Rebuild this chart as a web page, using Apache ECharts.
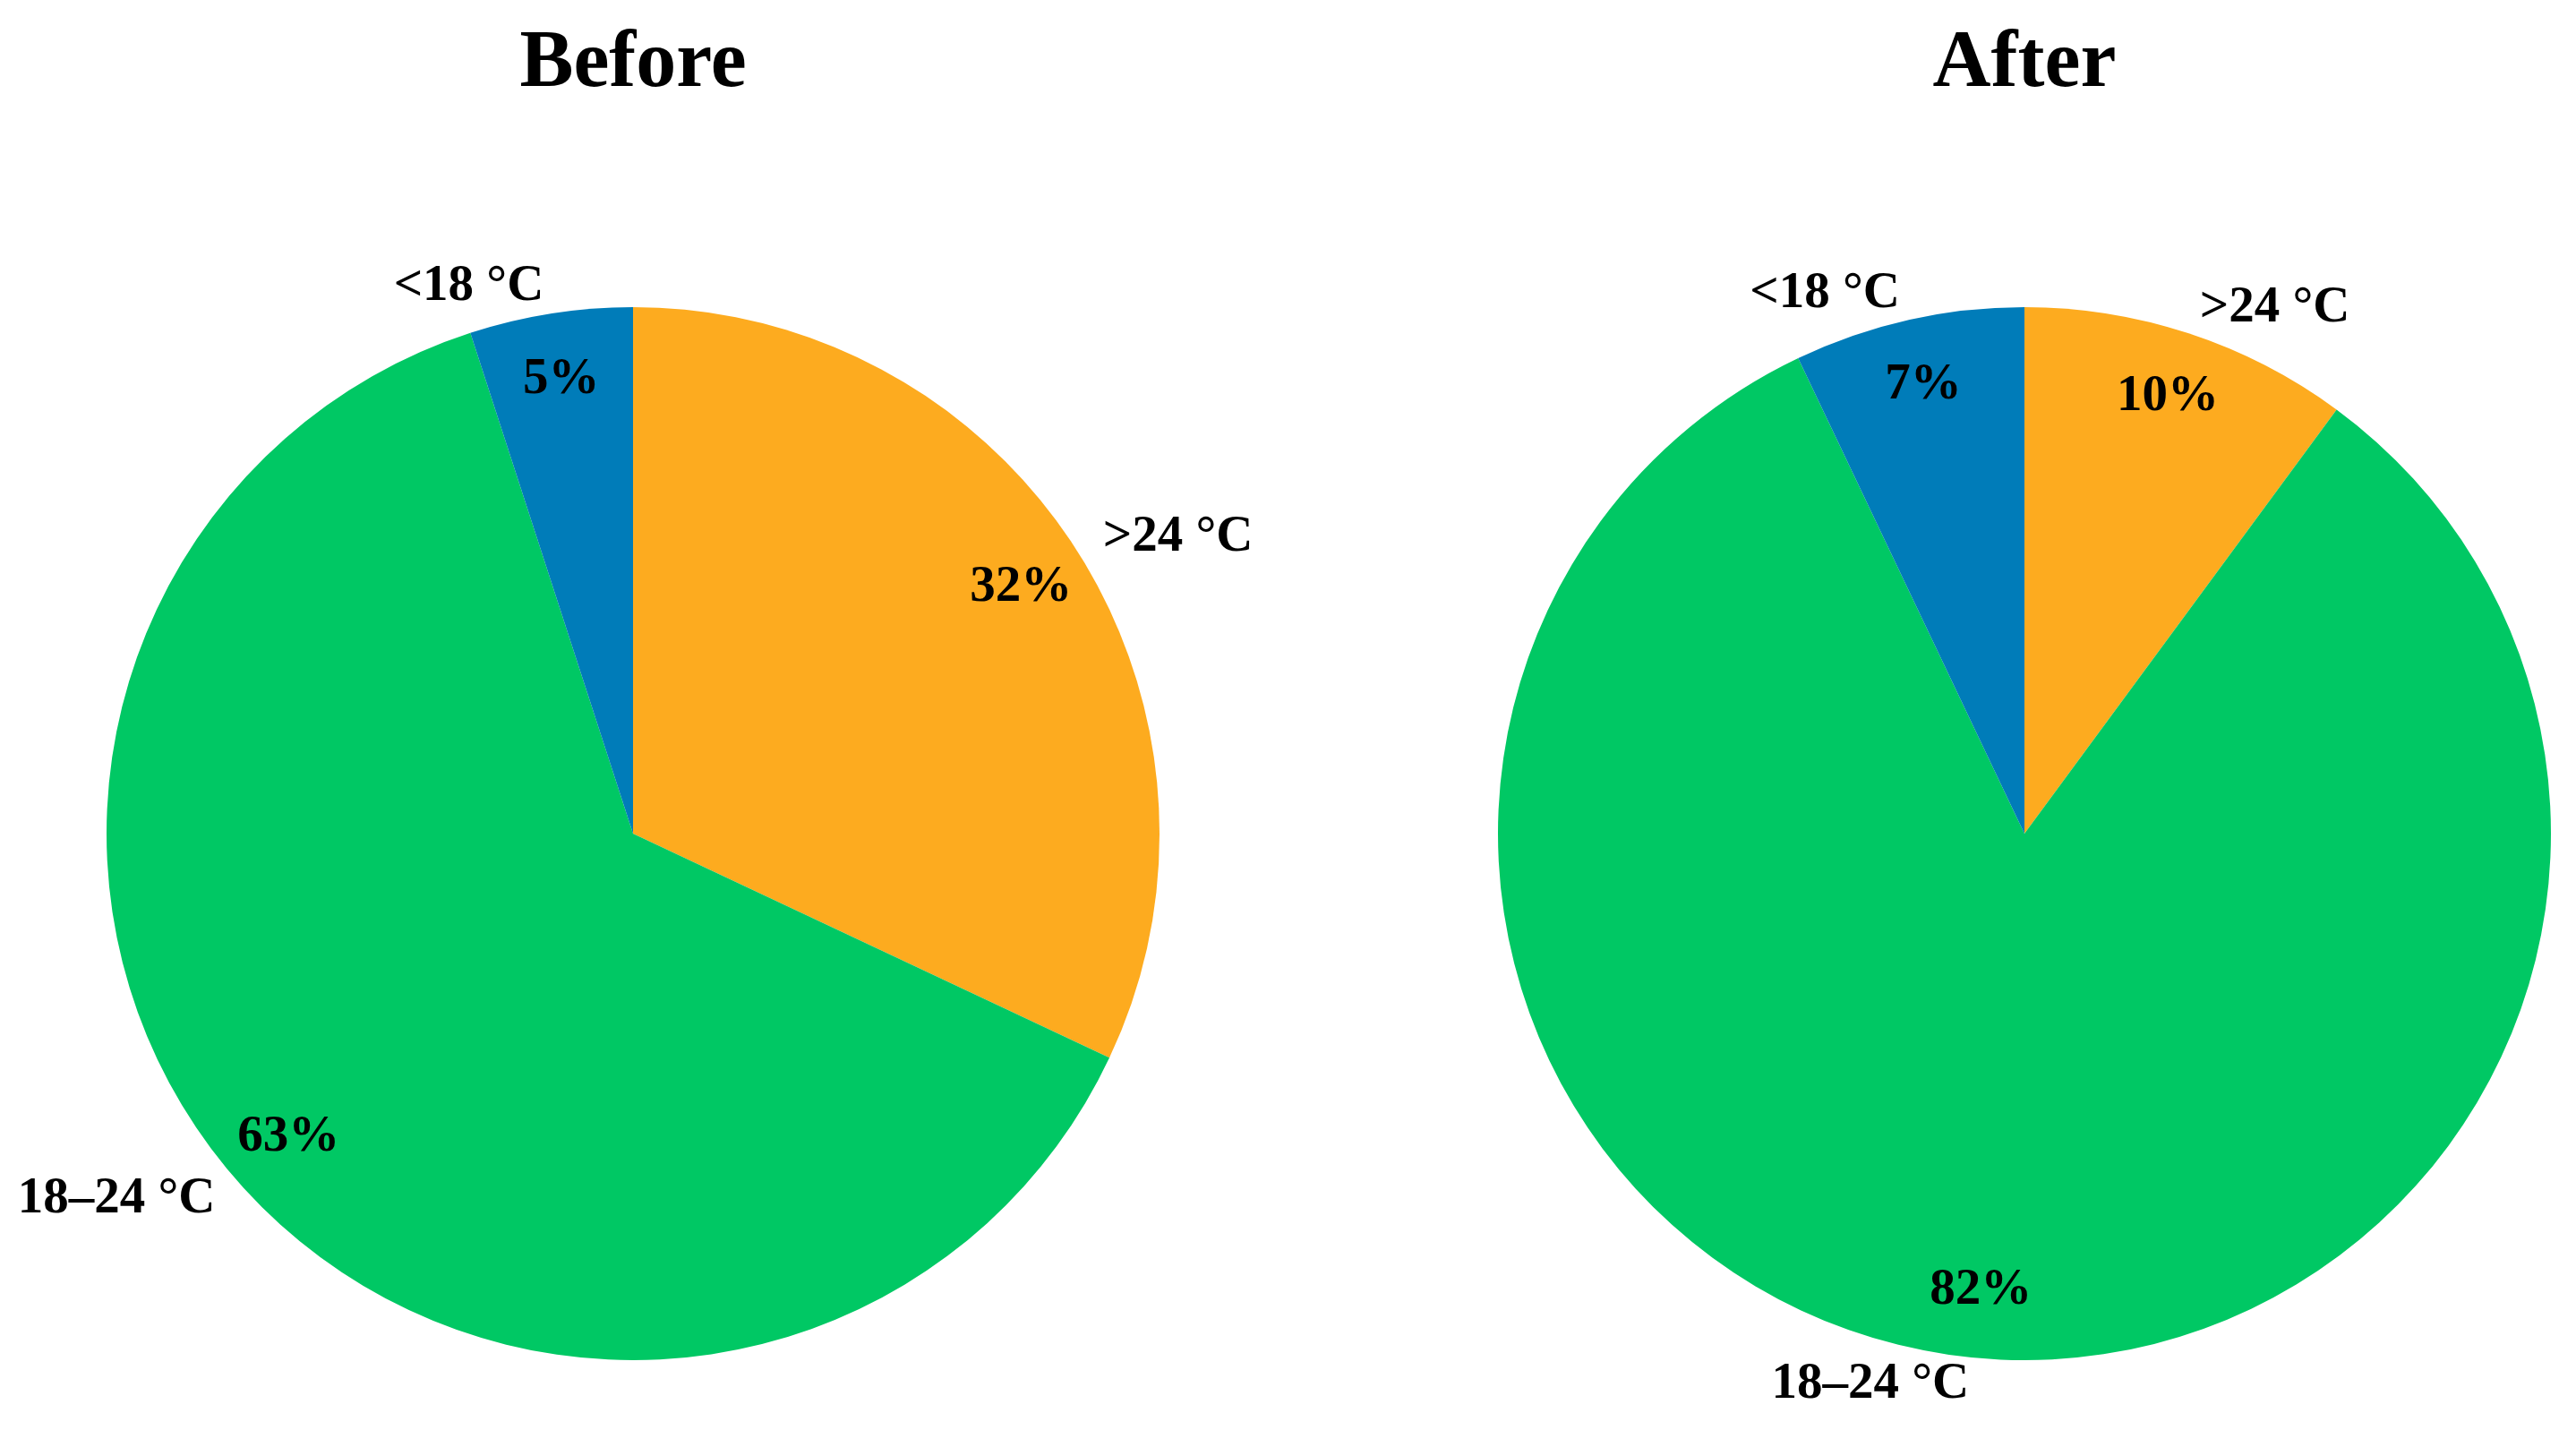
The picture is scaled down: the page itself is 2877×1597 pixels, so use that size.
<!DOCTYPE html>
<html><head><meta charset="utf-8">
<script src="https://cdn.jsdelivr.net/npm/echarts@6/dist/echarts.min.js"></script>
<style>html,body{margin:0;padding:0;background:#fff}#c{width:2877px;height:1597px}</style>
</head><body><div id="c"></div>
<script>
const categories = ['>24 °C', '18–24 °C', '<18 °C'];
const beforeValues = [32, 63, 5];
const afterValues = [10, 82, 7];
const panelTitles = ['Before', 'After'];
const sliceColors = ['#FDAB1F', '#00C864', '#007CB9'];

const FONT = 'Liberation Serif';
const R = 588;
const centers = [[707, 931], [2261, 931]];
const panels = [beforeValues, afterValues];

const series = [];
panels.forEach((vals, p) => {
  const data = categories.map((name, i) => ({ name, value: vals[i], itemStyle: { color: sliceColors[i] } }));
  series.push({
    type: 'pie', center: centers[p], radius: [0, R], startAngle: 90, clockwise: true,
    avoidLabelOverlap: false, silent: true, animation: false,
    data,
    label: {
      show: true, position: 'outside', formatter: '{b}', color: '#000',
      fontFamily: FONT, fontWeight: 'bold', fontSize: 57, distanceToLabelLine: 3
    },
    labelLine: { show: false, length: 30, length2: 0 },
    emphasis: { disabled: true }
  });
  series.push({
    type: 'pie', center: centers[p], radius: [R * 0.735, R], startAngle: 90, clockwise: true,
    avoidLabelOverlap: false, silent: true, animation: false,
    data: categories.map((name, i) => ({ name, value: vals[i], itemStyle: { color: 'rgba(0,0,0,0)' } })),
    label: {
      show: true, position: 'inside', formatter: '{c}%', color: '#000',
      fontFamily: FONT, fontWeight: 'bold', fontSize: 57, textBorderWidth: 0
    },
    labelLine: { show: false },
    emphasis: { disabled: true }
  });
});

const chart = echarts.init(document.getElementById('c'));
chart.setOption({
  backgroundColor: '#fff',
  animation: false,
  title: panelTitles.map((t, p) => ({
    text: t, left: centers[p][0], top: 28, textAlign: 'center', padding: 0,
    textStyle: { fontFamily: FONT, fontWeight: 'bold', fontSize: 90, color: '#000' }
  })),
  series
});
</script></body></html>
